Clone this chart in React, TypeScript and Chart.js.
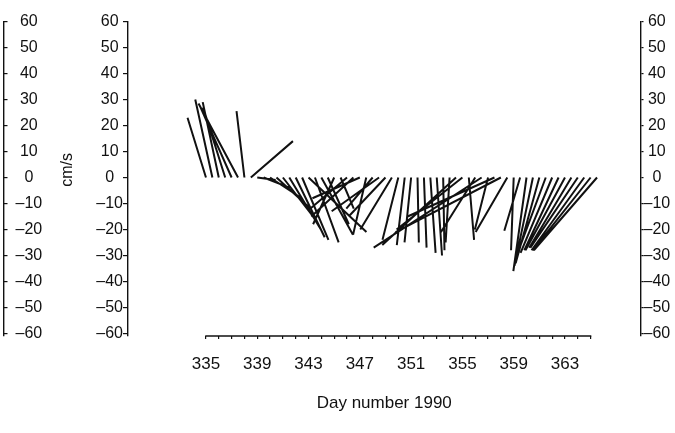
import { useEffect, useRef } from "react";
import { Chart, registerables } from "chart.js";

Chart.register(...registerables);

// Half-daily current vectors, day number 1990
const DAYS = [
  335, 335.5, 336, 336.5, 337, 337.5, 338, 338.5,
  339, 339.5, 340, 340.5, 341, 341.5, 342, 342.5, 343, 343.5, 344, 344.5,
  345, 345.5, 346, 346.5, 347,
  347.5, 348, 348.5, 349, 349.5, 350, 350.5, 351, 351.5, 352, 352.5, 353,
  353.5, 354, 354.5, 355, 355.5, 356, 356.5, 357, 357.5, 358, 358.5, 359, 359.5,
  360, 360.5, 361, 361.5, 362, 362.5, 363, 363.5, 364, 364.5, 365, 365.5,
];
// eastward component (cm/s)
const U_CMS = [
  -7, -6.5, -6.1, -8.4, -11.8, -15, -3, 16,
  7, 10, 12, 13, 13, 12, 11, 10, 22, 9, 12, 8,
  -8, 5, -14, -16, -18,
  -5, -10, -18, -14, -12, -6, -3, -2.5, 0.5, 1, 2, 2,
  0.5, -1.5, -28, -25, 2, -13, -41, -5, -33, -40, -12, -1, -6,
  -5, -7, -9, -11, -12, -13, -15, -16, -18, -20, -22, -24,
];
// northward component (cm/s)
const V_CMS = [
  23, 30, 29, 27, 27, 28.5, 25.5, 14,
  -1, -4, -8, -12, -17, -20, -23, -24, -21, -25, -22, -18,
  -18, -12, -12, -15, -8,
  -22, -12, -13, -15, -20, -24, -26, -25, -25, -27, -29, -30,
  -28, -25, -26, -20, -24, -21, -27, -20, -15, -21, -21, -28, -20.5,
  -36, -34, -33, -30, -29, -28, -28, -27, -27, -28, -28, -28,
];

const X_MINOR_TICKS = [
  335, 336, 337, 338, 339, 340, 341, 342, 343, 344, 345, 346, 347, 348, 349, 350,
  351, 352, 353, 354, 355, 356, 357, 358, 359, 360, 361, 362, 363, 364, 365,
];
const X_TICK_LABELS = [335, 339, 343, 347, 351, 355, 359, 363];
const Y_TICKS = [60, 50, 40, 30, 20, 10, 0, -10, -20, -30, -40, -50, -60];
const X_TITLE = "Day number 1990";
const Y_TITLE = "cm/s";

// days per cm/s so that a vector keeps its true direction on screen
const DAYS_PER_CMS = 0.2053;

const INK = "#111111";
const FONT = "'Liberation Sans', Arial, Helvetica, sans-serif";

const fmt = (v: number) => (v < 0 ? "\u2013" + Math.abs(v) : String(v));

const partialAxis = {
  id: "partialAxis",
  afterDraw(chart: any) {
    const xs = chart.scales.x;
    const y = chart.chartArea.bottom;
    const ctx = chart.ctx;
    ctx.save();
    ctx.strokeStyle = INK;
    ctx.lineWidth = 1.4;
    ctx.beginPath();
    ctx.moveTo(xs.getPixelForValue(X_MINOR_TICKS[0]) - 0.7, y);
    ctx.lineTo(xs.getPixelForValue(X_MINOR_TICKS[X_MINOR_TICKS.length - 1]) + 0.7, y);
    ctx.stroke();
    ctx.restore();
  },
};

const yTicksBuild = (s: any) => {
  s.ticks = Y_TICKS.map((v) => ({ value: v }));
};

export default function App() {
  const ref = useRef<HTMLCanvasElement>(null);

  useEffect(() => {
    if (!ref.current) return;
    const pts: any[] = [];
    DAYS.forEach((d, i) => {
      pts.push({ x: d, y: 0 });
      pts.push({ x: d + U_CMS[i] * DAYS_PER_CMS, y: V_CMS[i] });
      pts.push({ x: d, y: null });
    });

    const chart = new Chart(ref.current, {
      type: "line",
      data: {
        datasets: [
          {
            data: pts,
            borderColor: INK,
            borderWidth: 2,
            pointRadius: 0,
            pointHoverRadius: 0,
            spanGaps: false,
            tension: 0,
            clip: false as any,
          },
        ],
      },
      plugins: [partialAxis],
      options: {
        animation: false,
        responsive: false,
        devicePixelRatio: 1,
        events: [],
        layout: { padding: { top: 17.5, left: 0, right: 0, bottom: 0 } },
        plugins: { legend: { display: false }, tooltip: { enabled: false } },
        scales: {
          x: {
            type: "linear",
            position: "bottom",
            min: 328.92,
            max: 368.89,
            afterBuildTicks: (s: any) => {
              s.ticks = X_MINOR_TICKS.map((v) => ({ value: v }));
            },
            afterFit: (s: any) => {
              s.height = 97;
            },
            border: { display: false },
            grid: { drawOnChartArea: false, tickLength: 3, color: INK, lineWidth: 1.2 },
            ticks: {
              autoSkip: false,
              maxRotation: 0,
              padding: 15,
              color: INK,
              font: { family: FONT, size: 17 },
              callback: (v: any) => (X_TICK_LABELS.includes(Number(v)) ? String(v) : ""),
            },
            title: {
              display: true,
              text: X_TITLE,
              color: INK,
              font: { family: FONT, size: 17 },
              padding: { top: 0, bottom: 19 },
            },
          },
          yL: {
            type: "linear",
            position: "left",
            weight: 2,
            min: -61,
            max: 60,
            afterBuildTicks: yTicksBuild,
            afterFit: (s: any) => {
              s.width = 3.5;
            },
            border: { display: true, color: INK, width: 1.4 },
            grid: { drawOnChartArea: false, tickLength: -4, color: INK, lineWidth: 1.2 },
            ticks: {
              mirror: true,
              crossAlign: "center",
              padding: 12,
              color: INK,
              font: { family: FONT, size: 16 },
              callback: (v: any) => fmt(Number(v)),
            },
          },
          y: {
            type: "linear",
            position: "left",
            weight: 1,
            min: -61,
            max: 60,
            afterBuildTicks: yTicksBuild,
            afterFit: (s: any) => {
              s.width = 124.5;
            },
            border: { display: true, color: INK, width: 1.4 },
            grid: { drawOnChartArea: false, tickLength: 5, color: INK, lineWidth: 1.2 },
            ticks: {
              crossAlign: "center",
              padding: 0,
              color: INK,
              font: { family: FONT, size: 16 },
              callback: (v: any) => fmt(Number(v)),
            },
            title: {
              display: true,
              text: "    " + Y_TITLE,
              color: INK,
              font: { family: FONT, size: 16 },
              padding: { top: 54, bottom: 0 },
            },
          },
          yR: {
            type: "linear",
            position: "right",
            min: -61,
            max: 60,
            afterBuildTicks: yTicksBuild,
            afterFit: (s: any) => {
              s.width = 34.5;
            },
            border: { display: true, color: INK, width: 1.4 },
            grid: { drawOnChartArea: false, tickLength: 3, color: INK, lineWidth: 1.2 },
            ticks: {
              crossAlign: "center",
              padding: 0,
              color: INK,
              font: { family: FONT, size: 16 },
              callback: (v: any) => fmt(Number(v)),
            },
          },
        },
      } as any,
    });
    return () => chart.destroy();
  }, []);

  return (
    <div style={{ position: "absolute", left: 0, top: 0, width: 675, height: 433, background: "#fff" }}>
      <canvas ref={ref} width={675} height={433} style={{ display: "block" }} />
    </div>
  );
}
